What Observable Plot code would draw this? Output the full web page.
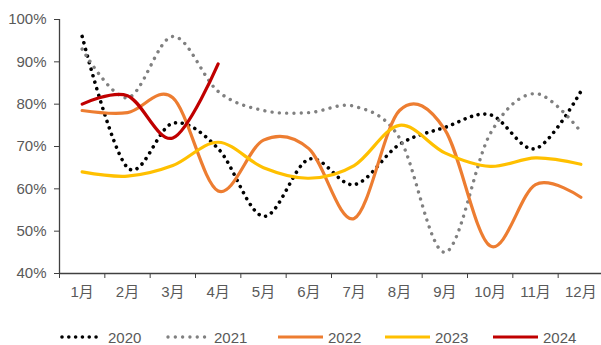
<!DOCTYPE html>
<html><head><meta charset="utf-8">
<script src="https://cdn.jsdelivr.net/npm/d3@7"></script>
<script src="https://cdn.jsdelivr.net/npm/@observablehq/plot@0.6"></script>
<style>
body{margin:0;background:#fff;font-family:"Liberation Sans",Arial,"Noto Sans CJK SC",sans-serif;}
#legend{position:relative;width:601px;height:25px;overflow:hidden;}
.item{position:absolute;top:7px;height:20px;line-height:15px;display:flex;align-items:center;font-size:15px;color:#595959;}
.item svg{display:block;margin-right:4px;}
</style>
</head><body>
<div id="chart"></div>
<div id="legend"></div>
<script>
const months = [1,2,3,4,5,6,7,8,9,10,11,12];
const monthLabels = ["1月","2月","3月","4月","5月","6月","7月","8月","9月","10月","11月","12月"];
const yTicks = [0.4,0.5,0.6,0.7,0.8,0.9,1.0];
const years = ["2020","2021","2022","2023","2024"];
const s2020 = [96, 65, 75.5, 69.5, 53.5, 67, 61, 70.5, 74.5, 77.5, 69.5, 83];
const s2021 = [93, 81.5, 96, 83, 78.5, 78, 79.5, 72, 45, 73, 82.5, 73.5];
const s2022 = [78.5, 78, 81.5, 59.5, 71.5, 69.5, 53, 78.5, 74, 46.5, 61, 58];
const s2023 = [64, 63, 65.5, 71, 65, 62.5, 65.5, 75, 68.5, 65.3, 67.3, 65.8];
const s2024 = [80, 82, 72, 89.5];
const seriesList = [s2020, s2021, s2022, s2023, s2024];

const styles = {
  "2020": {stroke:"#000000", strokeWidth:3.6, strokeDasharray:"0.01 6.8", strokeLinecap:"round"},
  "2021": {stroke:"#808080", strokeWidth:3.4, strokeDasharray:"0.01 7.3", strokeLinecap:"round"},
  "2022": {stroke:"#ED7D31", strokeWidth:3.2, strokeLinecap:"round"},
  "2023": {stroke:"#FFC000", strokeWidth:3.2, strokeLinecap:"round"},
  "2024": {stroke:"#C00000", strokeWidth:3.2, strokeLinecap:"round"}
};

const data = [];
years.forEach((yr, i) => seriesList[i].forEach((v, j) => data.push({year: yr, month: months[j], value: v / 100})));
const bounds = [0.5, ...months.map(m => m + 0.5)];

const axisColor = "#404040";
const textColor = "#595959";

const chart = Plot.plot({
  width: 601, height: 320,
  marginLeft: 59, marginRight: 0, marginTop: 19, marginBottom: 47,
  style: {fontFamily: '"Liberation Sans", Arial, "Noto Sans CJK SC", sans-serif', fontSize: "15px", background: "#fff", overflow: "visible"},
  x: {type: "linear", domain: [0.5, 12.5], range: [59, 603]},
  y: {domain: [0.4, 1.0]},
  marks: [
    Plot.axisY({ticks: yTicks, tickFormat: d => Math.round(d * 100) + "%", tickSize: 5, tickPadding: 8, stroke: axisColor, fill: textColor, label: null}),
    Plot.axisX({ticks: bounds, tickSize: 5, tickFormat: () => "", stroke: axisColor, label: null}),
    Plot.axisX({ticks: months, tickSize: 0, tickPadding: 13, tickFormat: d => monthLabels[d - 1], fill: textColor, label: null}),
    Plot.ruleY([0.4], {stroke: axisColor, strokeWidth: 1.3}),
    Plot.ruleX([0.5], {stroke: axisColor, strokeWidth: 1.3}),
    ...years.map(yr => Plot.line(data.filter(d => d.year === yr), {x: "month", y: "value", curve: "cardinal", ...styles[yr]}))
  ]
});
document.getElementById("chart").append(chart);

const legendPos = [
  {yr:"2020", x:60, w:44},
  {yr:"2021", x:166, w:44},
  {yr:"2022", x:277, w:47},
  {yr:"2023", x:384, w:47},
  {yr:"2024", x:492, w:47}
];
const legend = document.getElementById("legend");
legendPos.forEach(p => {
  const s = styles[p.yr];
  const div = document.createElement("div");
  div.className = "item";
  div.style.left = p.x + "px";
  const dash = s.strokeDasharray ? `stroke-dasharray="${s.strokeDasharray}"` : "";
  const pad = s.strokeDasharray ? 2 : 1;
  div.innerHTML = `<svg width="${p.w}" height="10"><line x1="${pad}" x2="${p.w - pad}" y1="5" y2="5" stroke="${s.stroke}" stroke-width="${s.strokeWidth}" stroke-linecap="${s.strokeDasharray ? 'round' : 'butt'}" ${dash}/></svg><span>${p.yr}</span>`;
  legend.append(div);
});
</script>
</body></html>
